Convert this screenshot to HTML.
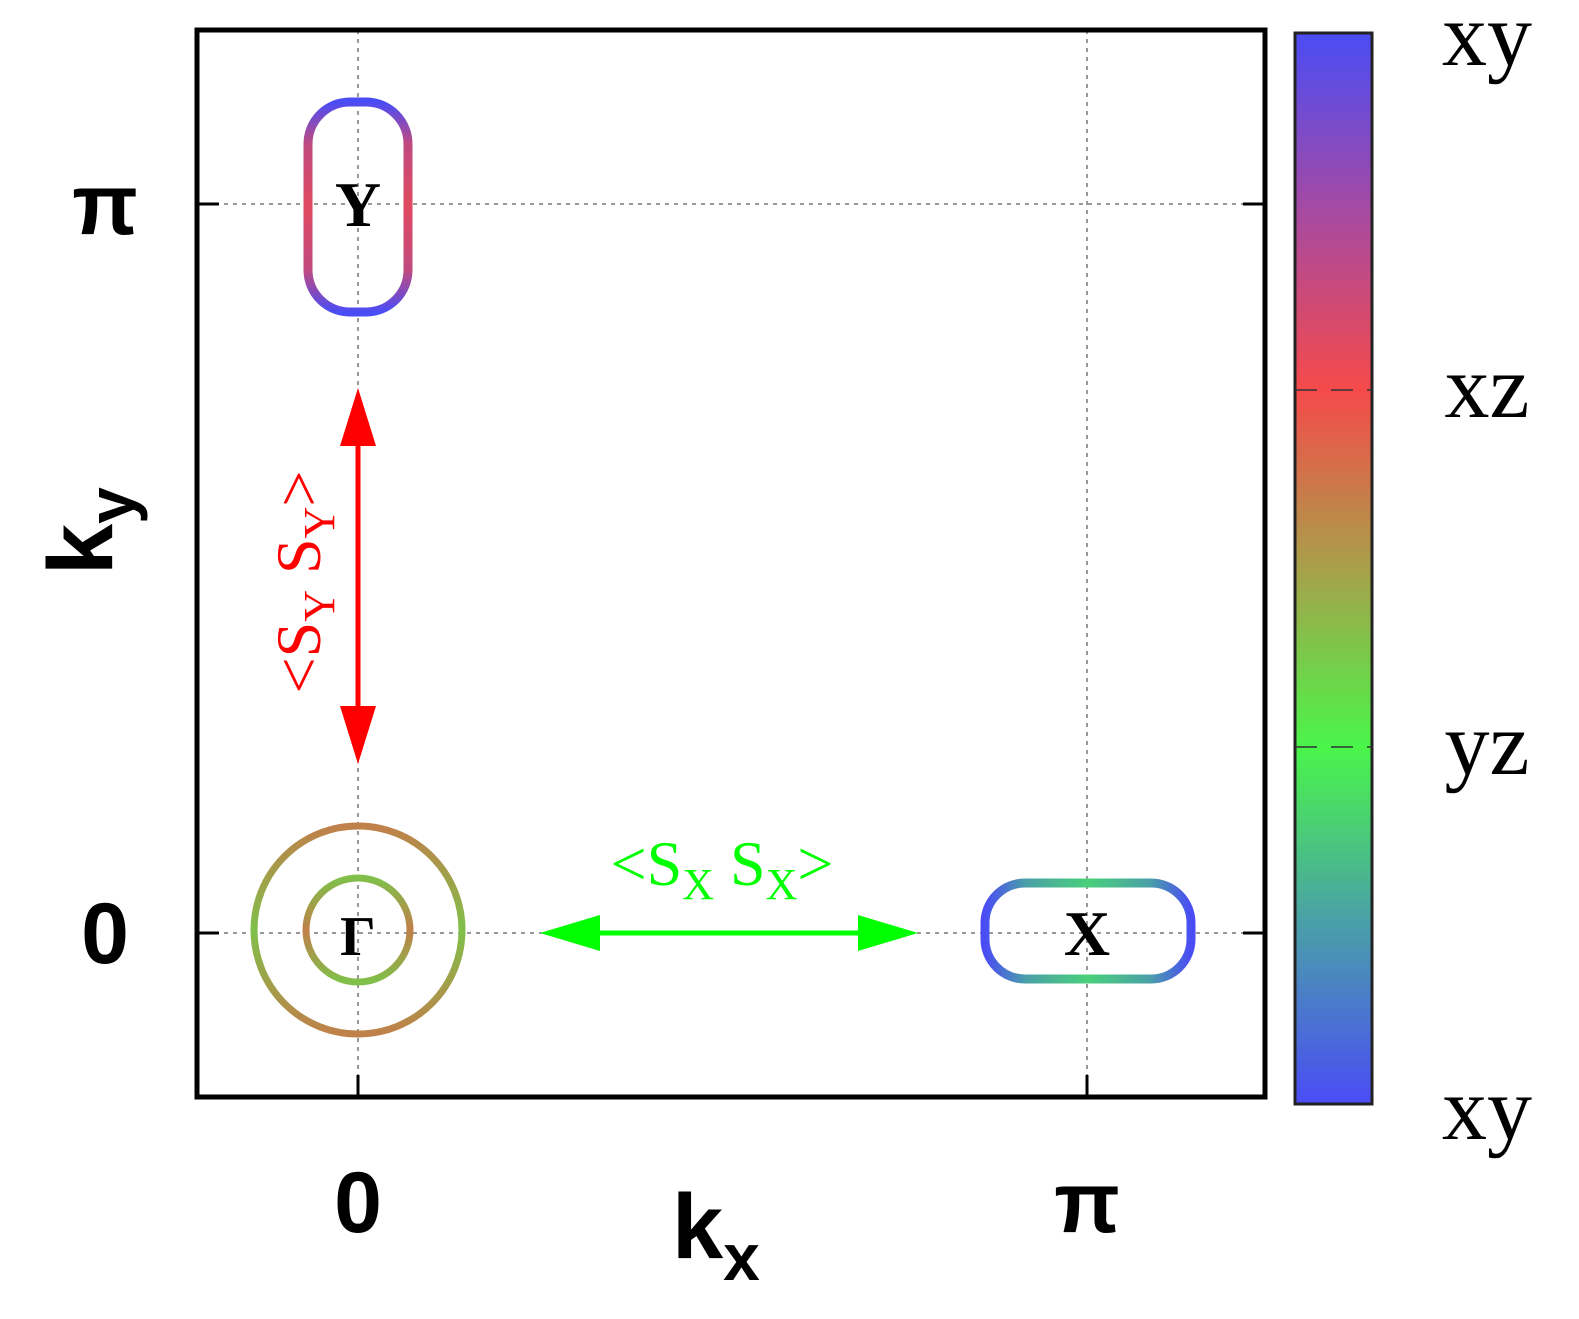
<!DOCTYPE html>
<html><head><meta charset="utf-8"><style>
html,body{margin:0;padding:0;background:#fff;}
svg{display:block;}
</style></head><body>
<svg id="chart" width="1579" height="1319" viewBox="0 0 1579 1319" xmlns="http://www.w3.org/2000/svg">
<defs>
<linearGradient id="cbar" x1="0" y1="0" x2="0" y2="1">
<stop offset="0" stop-color="#4a4cf5"/><stop offset="0.17" stop-color="#a84aa0"/>
<stop offset="0.333" stop-color="#f54a4a"/><stop offset="0.5" stop-color="#a8a04a"/>
<stop offset="0.667" stop-color="#4af54a"/><stop offset="0.83" stop-color="#4aa0a8"/>
<stop offset="1" stop-color="#4a4cf5"/></linearGradient>
<linearGradient id="gY" x1="0" y1="0" x2="0" y2="1">
<stop offset="0" stop-color="#4a4cf5"/><stop offset="0.2" stop-color="#c04a80"/>
<stop offset="0.5" stop-color="#e04a60"/><stop offset="0.8" stop-color="#c04a80"/><stop offset="1" stop-color="#4a4cf5"/></linearGradient>
<linearGradient id="gX" x1="0" y1="0" x2="1" y2="0">
<stop offset="0" stop-color="#4a4cf5"/><stop offset="0.2" stop-color="#4aa0a8"/>
<stop offset="0.5" stop-color="#4ad07a"/><stop offset="0.8" stop-color="#4aa0a8"/><stop offset="1" stop-color="#4a4cf5"/></linearGradient>
<linearGradient id="gO" x1="0" y1="0" x2="0" y2="1">
<stop offset="0" stop-color="#c0804a"/><stop offset="0.5" stop-color="#80c04a"/><stop offset="1" stop-color="#c0804a"/></linearGradient>
<linearGradient id="gI" x1="0" y1="0" x2="0" y2="1">
<stop offset="0" stop-color="#80c04a"/><stop offset="0.5" stop-color="#c0804a"/><stop offset="1" stop-color="#80c04a"/></linearGradient>
</defs>
<g id="plot"></g>
</svg>
<script>
const xTicks = [0, Math.PI];
const xTickLabels = ["0", "π"];
const yTicks = [0, Math.PI];
const yTickLabels = ["0", "π"];
const cbarLabels = ["xy", "xz", "yz", "xy"];
const pocketNames = ["Y", "X", "Γ"];
const pocketCenterX = [0, Math.PI, 0];
const pocketCenterY = [Math.PI, 0, 0];

const L=197,R=1265,T=30,B=1097;
const sx=v=>358+(1087-358)*v/Math.PI;
const sy=v=>933-(933-204)*v/Math.PI;
const NS="http://www.w3.org/2000/svg";
const g=document.getElementById('plot');
function mk(tag,attrs,parent){const e=document.createElementNS(NS,tag);for(const k in attrs)e.setAttribute(k,attrs[k]);(parent||g).appendChild(e);return e;}
const F='"Liberation Sans", sans-serif', FS='"Liberation Serif", serif';

xTicks.forEach((t,i)=>{const e=mk('line',{x1:sx(t),x2:sx(t),y1:T,y2:B,stroke:'#777','stroke-width':1.5,'stroke-dasharray':'4,5'});


const tk=mk('line',{x1:sx(t),x2:sx(t),y1:B,y2:B-22,stroke:'#000','stroke-width':3});


const tl=mk('text',{x:sx(t),y:1232,'text-anchor':'middle','font-family':F,'font-weight':'bold','font-size':86});tl.textContent=xTickLabels[i];

});
yTicks.forEach((t,i)=>{const e=mk('line',{x1:L,x2:R,y1:sy(t),y2:sy(t),stroke:'#777','stroke-width':1.5,'stroke-dasharray':'4,5'});


const a=mk('line',{x1:L,x2:L+22,y1:sy(t),y2:sy(t),stroke:'#000','stroke-width':3});


const b=mk('line',{x1:R,x2:R-22,y1:sy(t),y2:sy(t),stroke:'#000','stroke-width':3});


const tl=mk('text',{x:105,y:sy(t)+30,'text-anchor':'middle','font-family':F,'font-weight':'bold','font-size':86});tl.textContent=yTickLabels[i];

});

const frame=mk('rect',{x:L,y:T,width:R-L,height:B-T,fill:'none',stroke:'#000','stroke-width':5});



const yp=mk('rect',{x:sx(pocketCenterX[0])-50,y:sy(pocketCenterY[0])-102,width:100,height:210,rx:42,fill:'none',stroke:'url(#gY)','stroke-width':9});


const xp=mk('rect',{x:sx(pocketCenterX[1])-102,y:sy(pocketCenterY[1])-50,width:206,height:96,rx:40,fill:'none',stroke:'url(#gX)','stroke-width':9});


const go=mk('circle',{cx:sx(pocketCenterX[2]),cy:sy(pocketCenterY[2])-3,r:104,fill:'none',stroke:'url(#gO)','stroke-width':7});


const gi=mk('circle',{cx:sx(pocketCenterX[2]),cy:sy(pocketCenterY[2])-3,r:52,fill:'none',stroke:'url(#gI)','stroke-width':7});


pocketNames.forEach((n,i)=>{const t=mk('text',{x:sx(pocketCenterX[i]),y:sy(pocketCenterY[i])+22,'text-anchor':'middle','font-family':FS,'font-weight':'bold','font-size':i==2?56:64});t.textContent=n;

});

const ra=mk('g',{});


mk('line',{x1:358,x2:358,y1:440,y2:710,stroke:'#f00','stroke-width':5},ra);
mk('polygon',{points:'358,388 340,446 376,446',fill:'#f00'},ra);
mk('polygon',{points:'358,764 340,706 376,706',fill:'#f00'},ra);
const rl=mk('text',{transform:'translate(320,582) rotate(-90)','text-anchor':'middle','font-family':FS,'font-size':64,fill:'#f00'});
rl.innerHTML='&lt;S<tspan font-size="44" dy="14">Y</tspan><tspan dy="-14"> S</tspan><tspan font-size="44" dy="14">Y</tspan><tspan dy="-14">&gt;</tspan>';



const ga=mk('g',{});


mk('line',{x1:595,x2:865,y1:933,y2:933,stroke:'#0f0','stroke-width':5},ga);
mk('polygon',{points:'540,933 600,915 600,951',fill:'#0f0'},ga);
mk('polygon',{points:'918,933 858,915 858,951',fill:'#0f0'},ga);
const gl=mk('text',{x:722,y:885,'text-anchor':'middle','font-family':FS,'font-size':64,fill:'#0f0'});
gl.innerHTML='&lt;S<tspan font-size="44" dy="14">X</tspan><tspan dy="-14"> S</tspan><tspan font-size="44" dy="14">X</tspan><tspan dy="-14">&gt;</tspan>';



const xt=mk('text',{x:672,y:1258,'font-family':F,'font-weight':'bold','font-size':92});
xt.innerHTML='k<tspan font-size="66" dy="22">x</tspan>';


const yt=mk('text',{transform:'translate(112,575) rotate(-90)','font-family':F,'font-weight':'bold','font-size':92});
yt.innerHTML='k<tspan font-size="66" dy="22">y</tspan>';



const cb=mk('rect',{x:1295,y:33,width:77,height:1071,fill:'url(#cbar)',stroke:'#222','stroke-width':3});


cbarLabels.forEach((l,i)=>{const y=33+1071*i/(cbarLabels.length-1);
if(i>0&&i<cbarLabels.length-1){const d=mk('line',{x1:1295,x2:1372,y1:y,y2:y,stroke:'#333','stroke-width':1.5,'stroke-dasharray':'22,14'});

}
const t=mk('text',{x:1487,y:y+(i==0?32:i==cbarLabels.length-1?35:27),'text-anchor':'middle','font-family':FS,'font-size':90});t.textContent=l;

});
</script>
</body></html>
